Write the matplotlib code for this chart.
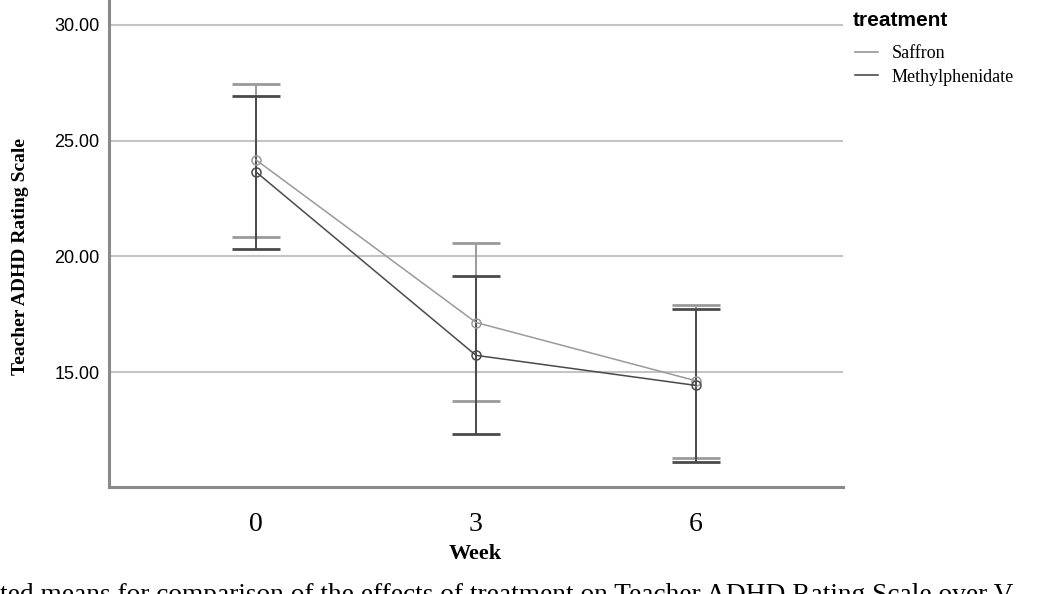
import numpy as np
import matplotlib.pyplot as plt
from matplotlib.lines import Line2D

weeks = ["0", "3", "6"]
saffron_mean = [24.17, 17.14, 14.62]
saffron_lo = [20.84, 13.76, 11.30]
saffron_hi = [27.45, 20.57, 17.90]
methyl_mean = [23.65, 15.72, 14.42]
methyl_lo = [20.32, 12.33, 11.10]
methyl_hi = [26.93, 19.13, 17.72]

c_saff = "#9a9a9a"
c_meth = "#4a4a4a"

fig = plt.figure(figsize=(10.42, 5.94), dpi=100)
ax = fig.add_axes([109 / 1042, 1 - 487 / 594, 734 / 1042, 487 / 594])

x = np.arange(len(weeks))

# grid
for v in [15, 20, 25, 30]:
    ax.axhline(v, color="#c4c4c4", lw=1.5, zorder=0)

for mean, lo, hi, col, z in [(saffron_mean, saffron_lo, saffron_hi, c_saff, 2),
                             (methyl_mean, methyl_lo, methyl_hi, c_meth, 3)]:
    mean = np.array(mean)
    yerr = [mean - np.array(lo), np.array(hi) - mean]
    ax.errorbar(x, mean, yerr=yerr, fmt="none", ecolor=col, elinewidth=1.4,
                capsize=17.3, capthick=2, zorder=z)
    ax.plot(x, mean, color=col, lw=1.1, marker="o", markersize=6.5,
            markerfacecolor="none", markeredgecolor=col, markeredgewidth=1.1, zorder=z + 2)

ax.set_xlim(-0.668, 2.668)
ax.set_ylim(10.03, 31.08)
ax.set_xticks(x)
ax.set_xticklabels(weeks, fontfamily="Liberation Serif", fontsize=20)
ax.set_yticks([15, 20, 25, 30])
ax.set_yticklabels(["15.00", "20.00", "25.00", "30.00"], fontfamily="Liberation Sans", fontsize=13)
ax.tick_params(axis="both", length=0)
ax.tick_params(axis="y", pad=7)
ax.tick_params(axis="x", pad=18)

for s in ["top", "right"]:
    ax.spines[s].set_visible(False)
for s in ["left", "bottom"]:
    ax.spines[s].set_color("#8a8a8a")
    ax.spines[s].set_linewidth(2.2)

ax.set_xlabel("Week", fontfamily="Liberation Serif", fontweight="bold", fontsize=16)
ax.xaxis.set_label_coords(0.499, -0.137)
ax.xaxis.label.set_va("center")
ax.set_ylabel("Teacher ADHD Rating Scale", fontfamily="Liberation Serif", fontweight="bold", fontsize=14)
ax.yaxis.set_label_coords(-0.121, 0.473)
ax.yaxis.label.set_va("center")

# legend: title as its own text, entries below it
fig.text(853 / 1042, 1 - 20 / 594, "treatment", fontfamily="Liberation Sans", fontweight="bold",
         fontsize=15, ha="left", va="center")
handles = [Line2D([], [], color="#8c8c8c", lw=1.1), Line2D([], [], color="#3c3c3c", lw=1.1)]
leg = fig.legend(handles, ["Saffron", "Methylphenidate"], loc="upper left",
                 bbox_to_anchor=(855 / 1042, 1 - 45 / 594), frameon=False,
                 prop={"family": "Liberation Serif", "size": 13},
                 handlelength=1.28, handletextpad=0.75, labelspacing=0.36, borderpad=0,
                 borderaxespad=0)

# caption of the source figure, cut off at the bottom edge
fig.text(0.0, -8 / 594, "ted means for comparison of the effects of treatment on Teacher ADHD Rating Scale over V",
         fontfamily="Liberation Serif", fontsize=19.7, ha="left", va="baseline")

fig.savefig("out.png", dpi=100)
